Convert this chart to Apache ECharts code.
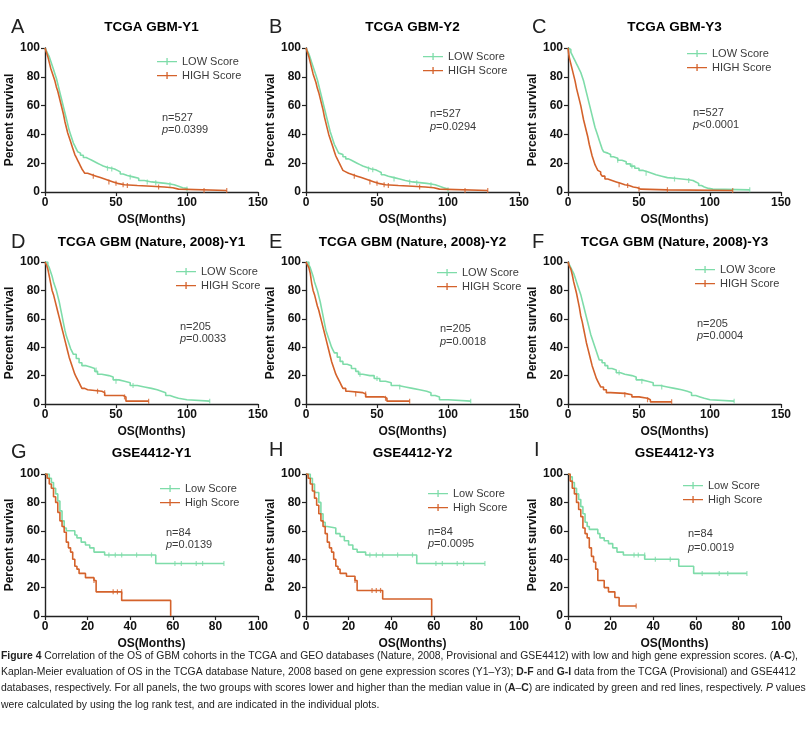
<!DOCTYPE html>
<html><head><meta charset="utf-8">
<script src="https://cdn.jsdelivr.net/npm/echarts@6/dist/echarts.min.js"></script>
<style>html,body{margin:0;padding:0;background:#fff}#c{width:807px;height:735px}</style>
</head><body><div id="c"></div>
<script>
// ---------- DATA ----------
const panelLetters = ['A','B','C','D','E','F','G','H','I'];
const panelTitles = ['TCGA GBM-Y1','TCGA GBM-Y2','TCGA GBM-Y3',
  'TCGA GBM (Nature, 2008)-Y1','TCGA GBM (Nature, 2008)-Y2','TCGA GBM (Nature, 2008)-Y3',
  'GSE4412-Y1','GSE4412-Y2','GSE4412-Y3'];
const lowNames = ['LOW Score','LOW Score','LOW Score','LOW Score','LOW Score','LOW 3core','Low Score','Low Score','Low Score'];
const highNames = ['HIGH Score','HIGH Score','HIGH Score','HIGH Score','HIGH Score','HIGH Score','High Score','High Score','High Score'];
const nLabels = ['n=527','n=527','n=527','n=205','n=205','n=205','n=84','n=84','n=84'];
const pLabels = ['=0.0399','=0.0294','<0.0001','=0.0033','=0.0018','=0.0004','=0.0139','=0.0095','=0.0019'];
const xMax = [150,150,150,150,150,150,100,100,100];
const xStep = [50,50,50,50,50,50,20,20,20];
const yTicksMax = 100, yStep = 20;
const xAxisName = 'OS(Months)';
const yAxisName = 'Percent survival';

const lowA = [[0,100],[1,98],[2,96],[3,94],[4,91],[5,88],[6,85],[7,82],[8,79],[9,75],[10,71],[11,67],[12,63],[13,59],[14,55],[15,51],[16,47],[17,43],[18,40],[19,37],[20,34],[21,32],[22,30],[23,28],[24,27],[25,25.5],[27,24],[29,23],[31,22],[33,21],[35,20],[37,19],[39,18],[41,17],[44,16.5],[47,16],[49,15],[51,14],[53,12.5],[55,11.5],[58,10.5],[62,9.5],[66,8],[70,7],[75,6.5],[80,6],[85,5.5],[88,5],[91,4],[94,3],[97,2.5],[100,2]];
const highA = [[0,100],[1,97],[2,94],[3,90],[4,86],[5,83],[6,80],[7,77],[8,73],[9,70],[10,66],[11,62],[12,58],[13,54],[14,49],[15,45],[16,41],[17,38],[18,35],[19,32],[20,29],[21,26],[22,24],[23,22],[24,20],[25,18],[26,16],[27,14.5],[28,13],[30,12],[33,11],[36,10],[39,9],[42,8],[45,7],[48,6],[51,5],[56,4.5],[65,4],[75,3.5],[84,3],[90,2],[94,1],[128,1]];
const lowB = [[0,100],[1,98],[2,96],[3,93],[4,90],[5,87],[6,84],[7,81],[8,78],[9,74],[10,70],[11,66],[12,62],[13,58],[14,54],[15,50],[16,46],[17,42],[18,39],[19,36],[20,33],[21,31],[22,29],[23,27],[24,26],[26,24.5],[28,23],[30,22],[32,21],[34,20],[36,19],[38,18],[40,17],[43,16],[46,15.5],[49,14.5],[51,13.5],[53,12],[55,11],[58,10],[62,9],[66,8],[70,7],[75,6.5],[80,6],[85,5.5],[88,5],[91,4],[94,3],[97,2],[100,1.5]];
const highB = [[0,100],[1,97],[2,94],[3,90],[4,86],[5,82],[6,79],[7,76],[8,72],[9,69],[10,65],[11,61],[12,57],[13,52],[14,48],[15,44],[16,40],[17,37],[18,34],[19,31],[20,28],[21,25],[22,23],[23,21],[24,19],[25,17],[26,15],[27,14],[28,13],[30,12],[33,11],[36,10],[39,9],[42,8],[45,7],[48,6],[51,5],[56,4.5],[65,4],[75,3.5],[84,3],[90,2],[94,1],[128,1]];
const lowC = [[0,100],[1,99],[2,97],[3,95],[4,93],[5,91],[6,89],[7,87],[8,85],[9,83],[10,80],[11,77],[12,73],[13,69],[14,65],[15,61],[16,57],[17,53],[18,49],[19,45],[20,42],[21,39],[22,36],[23,33],[24,30],[25,28],[26,27],[28,26],[30,24.5],[32,23.5],[35,22],[38,21],[41,19.5],[44,18],[47,16.5],[50,15],[53,14],[56,13],[59,12],[62,11],[66,10],[70,9.5],[75,9],[80,8.5],[85,8],[88,7],[90,6],[92,4.5],[94,3.5],[96,2.5],[99,2],[102,1.5],[128,1.5]];
const highC = [[0,100],[0.5,96],[1,93],[2,89],[3,85],[4,81],[5,77],[6,72],[7,68],[8,64],[9,60],[10,55],[11,50],[12,46],[13,42],[14,38],[15,33],[16,29],[17,25],[18,22],[19,19],[20,17],[21,15],[22,14],[23,12.5],[24,11],[26,9],[28,8],[31,7],[34,6],[37,5],[40,4.5],[43,3.5],[46,3],[49,2],[51,1.5],[70,1],[116,1]];
const lowD = [[0,100],[2,98],[3,96],[4,93],[5,90],[6,86],[7,83],[8,80],[9,76],[10,72],[11,67],[12,62],[13,57],[14,52],[15,48],[16,45],[17,42],[18,39],[19,37],[20,35],[22,32],[24,29],[26,27],[29,26],[32,25],[35,23],[37,21],[40,20],[45,19],[48,17],[52,16],[56,15],[60,13],[65,12],[70,11],[75,10],[79,9],[82,8],[85,6],[88,5],[91,4],[94,3],[100,2],[116,2]];
const highD = [[0,100],[1,98],[2,95],[3,90],[4,85],[5,80],[6,77],[7,73],[8,69],[9,65],[10,61],[11,57],[12,53],[13,49],[14,45],[15,41],[16,37],[17,33],[18,30],[19,27],[20,24],[21,21],[22,19],[23,17],[24,15],[25,13],[26,11],[28,10],[30,9],[40,8],[42,6],[55,5],[57,2],[73,2]];
const lowE = [[0,100],[2,98],[3,96],[4,93],[5,90],[6,86],[7,83],[8,80],[9,76],[10,72],[11,67],[12,62],[13,57],[14,52],[15,49],[16,46],[17,43],[18,40],[19,38],[20,36],[22,33],[24,30],[26,28],[29,27],[32,25],[35,23],[37,21],[40,20],[45,20],[48,18],[52,16],[56,15],[60,13],[65,12],[70,11],[75,10],[80,9],[85,8],[88,6],[91,5],[94,3],[100,2],[116,2]];
const highE = [[0,100],[1,98],[2,96],[3,92],[4,85],[5,80],[6,77],[7,73],[8,69],[9,66],[10,62],[11,58],[12,54],[13,50],[14,46],[15,42],[16,38],[17,34],[18,30],[19,27],[20,24],[21,21],[22,19],[23,17],[24,15],[25,13],[26,11],[28,9],[30,8],[40,7],[42,5],[55,4],[57,2],[73,2]];
const lowF = [[0,100],[1,98],[2,96],[3,94],[4,92],[5,89],[6,86],[7,83],[8,80],[9,77],[10,73],[11,69],[12,65],[13,61],[14,57],[15,53],[16,49],[17,46],[18,43],[19,40],[20,37],[21,34],[22,31],[24,29],[26,27],[28,25],[31,24],[34,22],[37,21],[40,20],[45,19],[48,17],[52,16],[56,15],[60,13],[65,12],[70,11],[75,10],[80,9],[84,8],[87,6],[90,5],[93,4],[96,3],[100,2],[117,2]];
const highF = [[0,100],[1,97],[2,95],[3,91],[4,86],[5,82],[6,78],[7,73],[8,68],[9,62],[10,58],[11,53],[12,48],[13,43],[14,39],[15,35],[16,31],[17,27],[18,24],[19,21],[20,18],[21,16],[22,14],[23,12],[25,10],[27,8],[30,7.5],[40,6.5],[45,5],[50,4],[56,3],[58,1.5],[73,1.5]];
const lowG = [[0,100],[2,97],[3,94],[4,90],[5,86],[6,81],[7,74],[8,67],[9,62],[10,60],[14,57],[15,55],[17,52],[19,50],[21,48],[23,45],[28,43],[52,37],[84,37]];
const highG = [[0,100],[1,97],[2,93],[3,90],[4,84],[5,80],[6,73],[7,67],[8,63],[9,59],[10,52],[11,48],[12,45],[13,40],[14,35],[15,33],[16,30],[19,27],[23,25],[24,17],[36,11],[59,11],[59,0]];
const lowH = [[0,100],[2,97],[3,93],[4,87],[6,80],[7,72],[8,66],[9,63],[10,62],[14,58],[16,56],[18,53],[20,50],[22,47],[24,45],[28,43],[52,37],[84,37]];
const highH = [[0,100],[1,97],[2,93],[3,88],[4,83],[5,78],[6,72],[7,67],[8,63],[9,58],[10,52],[11,48],[12,45],[13,40],[14,35],[15,33],[16,30],[19,28],[23,25],[24,18],[36,12],[59,12],[59,0]];
const lowI = [[0,100],[1,98],[2,94],[3,90],[4,86],[5,82],[6,77],[7,72],[8,66],[9,63],[10,61],[14,58],[15,55],[17,53],[19,51],[21,48],[23,45],[26,43],[36,40],[52,35],[59,30],[84,30]];
const highI = [[0,100],[1,95],[2,90],[3,86],[4,80],[5,75],[6,70],[7,62],[8,58],[9,55],[10,48],[11,42],[12,38],[13,33],[14,25],[17,20],[19,17],[22,13],[24,7],[32,7]];

// censored observations (tick marks)
const lowCensA = [[44,16.5],[47,16],[60,10.5],[72,7],[78,6.5],[88,5],[100,2]];
const highCensA = [[34,11],[45,7],[50,6],[55,5],[58,4.5],[80,3.5],[112,1],[128,1]];
const lowCensB = [[44,16],[47,15.5],[62,9],[73,7],[78,6.5],[88,5],[100,1.5]];
const highCensB = [[34,11],[45,7],[50,6],[55,5],[58,4.5],[80,3.5],[112,1],[128,1]];
const lowCensC = [[35,22],[45,18],[55,13],[75,9],[85,8],[128,1.5]];
const highCensC = [[36,5],[42,4.5],[50,2],[70,1.5],[116,1]];
const lowCensD = [[36,24],[50,16],[62,13],[116,2]];
const highCensD = [[37,9],[42,8],[56,5],[73,2]];
const lowCensE = [[38,21],[50,18],[66,12],[116,2]];
const highCensE = [[35,7],[42,7],[56,4],[73,2]];
const lowCensF = [[36,22],[52,16],[66,12],[117,2]];
const highCensF = [[40,6.5],[56,3],[73,1.5]];
const lowCensG = [[30,43],[33,43],[36,43],[43,43],[50,43],[61,37],[64,37],[71,37],[74,37],[84,37]];
const highCensG = [[23,25],[32,17],[34,17],[36,17]];
const lowCensH = [[30,43],[33,43],[36,43],[43,43],[50,43],[61,37],[64,37],[71,37],[74,37],[84,37]];
const highCensH = [[23,25],[31,18],[33,18],[35,18]];
const lowCensI = [[31,43],[33,43],[36,43],[41,40],[48,40],[63,30],[71,30],[75,30],[84,30]];
const highCensI = [[32,7]];

const lows = [lowA,lowB,lowC,lowD,lowE,lowF,lowG,lowH,lowI];
const highs = [highA,highB,highC,highD,highE,highF,highG,highH,highI];
const lowCens = [lowCensA,lowCensB,lowCensC,lowCensD,lowCensE,lowCensF,lowCensG,lowCensH,lowCensI];
const highCens = [highCensA,highCensB,highCensC,highCensD,highCensE,highCensF,highCensG,highCensH,highCensI];

const captionLines = [
  '{b|Figure 4} Correlation of the OS of GBM cohorts in the TCGA and GEO databases (Nature, 2008, Provisional and GSE4412) with low and high gene expression scores. ({b|A}-{b|C}),',
  'Kaplan-Meier evaluation of OS in the TCGA database Nature, 2008 based on gene expression scores (Y1\u2013Y3); {b|D-F} and {b|G-I} data from the TCGA (Provisional) and GSE4412',
  'databases, respectively. For all panels, the two groups with scores lower and higher than the median value in ({b|A}\u2013{b|C}) are indicated by green and red lines, respectively. {i|P} values',
  'were calculated by using the log rank test, and are indicated in the individual plots.'
];

// ---------- LAYOUT / STYLE ----------
const GREEN = '#7edca9', ORANGE = '#d4622b';
const FONT = '"Liberation Sans", Arial, Helvetica, sans-serif';
const CAPFONT = '"Liberation Sans Narrow", "Liberation Sans", sans-serif';
const CAPSIZE = 10.4;
const colLeft = [45, 306, 568];
const rowTop = [48, 262, 474];
const rowH = [144, 142, 142];
const gridW = 213;
const titleY = [27, 242, 453];
const letterPos = [[11,27],[269,27],[532,27],[11,242],[269,242],[532,242],[11,452],[269,450],[534,450]];
const legendPos = [[157,56],[423,51],[687,48],[176,266],[437,267],[695,264],[160,483],[428,488],[683,480]];
const textPos = [[162,118,130],[430,114,127],[693,113,125],[180,327,339],[440,329,342],[697,324,336],[166,533,545],[428,532,544],[688,534,548]];

const chart = echarts.init(document.getElementById('c'));
const grids = [], xAxes = [], yAxes = [], series = [], legends = [], graphics = [];
const legendIcon = 'path://M0,3.4h20v1.3h-20z M9.4,0.5h1.3v7h-1.3z';

for (let i = 0; i < 9; i++) {
  const r = Math.floor(i / 3), c = i % 3;
  grids.push({left: colLeft[c], top: rowTop[r], width: gridW, height: rowH[r], containLabel: false});
  xAxes.push({
    type: 'value', gridIndex: i, min: 0, max: xMax[i], interval: xStep[i],
    name: xAxisName, nameLocation: 'middle', nameGap: 22,
    nameTextStyle: {fontFamily: FONT, fontWeight: 'bold', fontSize: 12, color: '#111'},
    axisLine: {show: true, onZero: false, lineStyle: {color: '#222', width: 1.4}},
    axisTick: {show: true, length: 4, lineStyle: {color: '#222', width: 1.2}},
    axisLabel: {margin: 5, fontFamily: FONT, fontWeight: 'bold', fontSize: 12, color: '#111'},
    splitLine: {show: false}
  });
  yAxes.push({
    type: 'value', gridIndex: i, min: 0, max: yTicksMax, interval: yStep,
    name: yAxisName, nameLocation: 'middle', nameGap: 26, nameRotate: 90,
    nameTextStyle: {fontFamily: FONT, fontWeight: 'bold', fontSize: 12, color: '#111'},
    axisLine: {show: true, lineStyle: {color: '#222', width: 1.4}},
    axisTick: {show: true, length: 4, lineStyle: {color: '#222', width: 1.2}},
    axisLabel: {margin: 5, fontFamily: FONT, fontWeight: 'bold', fontSize: 12, color: '#111'},
    splitLine: {show: false}
  });
  series.push({type: 'line', name: lowNames[i], xAxisIndex: i, yAxisIndex: i, data: lows[i], step: 'end',
    showSymbol: false, symbol: 'none', color: GREEN, lineStyle: {color: GREEN, width: 1.6}, z: 3, animation: false});
  series.push({type: 'line', name: highNames[i], xAxisIndex: i, yAxisIndex: i, data: highs[i], step: 'end',
    showSymbol: false, symbol: 'none', color: ORANGE, lineStyle: {color: ORANGE, width: 1.6}, z: 4, animation: false});
  series.push({type: 'scatter', name: 'cens-low-' + i, xAxisIndex: i, yAxisIndex: i, data: lowCens[i],
    symbol: 'rect', symbolSize: [1.2, 5], itemStyle: {color: GREEN}, silent: true, z: 3, animation: false});
  series.push({type: 'scatter', name: 'cens-high-' + i, xAxisIndex: i, yAxisIndex: i, data: highCens[i],
    symbol: 'rect', symbolSize: [1.2, 5], itemStyle: {color: ORANGE}, silent: true, z: 4, animation: false});
  legends.push({
    left: legendPos[i][0], top: legendPos[i][1], orient: 'vertical', itemWidth: 20, itemHeight: 8, itemGap: 3,
    icon: legendIcon, selectedMode: false, padding: 0,
    data: [lowNames[i], highNames[i]],
    textStyle: {fontFamily: FONT, fontSize: 11, color: '#3a3a3a', padding: [0,0,0,0]}
  });
  const cx = colLeft[c] + gridW / 2;
  graphics.push({type: 'text', x: cx, y: titleY[r], style: {text: panelTitles[i], font: 'bold 13.5px ' + FONT,
    fill: '#000', align: 'center', verticalAlign: 'middle', textAlign: 'center', textVerticalAlign: 'middle'}});
  graphics.push({type: 'text', x: letterPos[i][0], y: letterPos[i][1], style: {text: panelLetters[i], font: '20px ' + FONT,
    fill: '#222', align: 'left', verticalAlign: 'middle', textAlign: 'left', textVerticalAlign: 'middle'}});
  graphics.push({type: 'text', x: textPos[i][0], y: textPos[i][1], style: {text: nLabels[i], font: '11px ' + FONT,
    fill: '#3a3a3a', align: 'left', verticalAlign: 'middle', textAlign: 'left', textVerticalAlign: 'middle'}});
  graphics.push({type: 'text', x: textPos[i][0], y: textPos[i][2], style: {text: '{i|p}' + pLabels[i], font: '11px ' + FONT,
    fill: '#3a3a3a', align: 'left', verticalAlign: 'middle', textAlign: 'left', textVerticalAlign: 'middle',
    rich: {i: {fontStyle: 'italic', fontFamily: FONT, fontSize: 11, fill: '#3a3a3a', color: '#3a3a3a'}}}});
}

const capY = [656, 672, 688, 705];
captionLines.forEach((t, k) => {
  graphics.push({type: 'text', x: 1, y: capY[k], style: {text: t, fontFamily: CAPFONT,
    fontSize: CAPSIZE, fill: '#222', align: 'left', verticalAlign: 'middle', textAlign: 'left', textVerticalAlign: 'middle',
    rich: {b: {fontWeight: 'bold', fontFamily: CAPFONT, fontSize: CAPSIZE, fill: '#222'},
           i: {fontStyle: 'italic', fontFamily: CAPFONT, fontSize: CAPSIZE, fill: '#222'}}}});
});

chart.setOption({
  animation: false,
  backgroundColor: '#fff',
  grid: grids, xAxis: xAxes, yAxis: yAxes, series: series, legend: legends, graphic: graphics
});
</script></body></html>
